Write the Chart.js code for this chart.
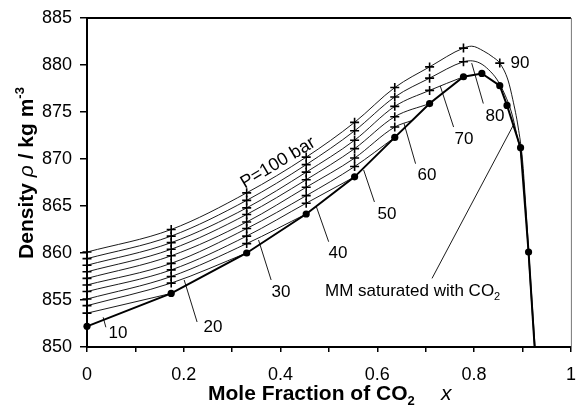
<!DOCTYPE html>
<html>
<head>
<meta charset="utf-8">
<script src="https://cdn.jsdelivr.net/npm/chart.js@4.4.0/dist/chart.umd.min.js"></script>
<style>
  html, body { margin: 0; padding: 0; background: #fff; }
  canvas { display: block; }
</style>
</head>
<body>
<canvas id="chart" width="577" height="405"></canvas>
<script>
// mole fractions of CO2 where the isobars were measured
const colX = [0, 0.174, 0.33, 0.453, 0.553, 0.636, 0.708, 0.778];

// density (kg m-3) at those compositions, one array per pressure
const rho10 = [853.6];
const rho20 = [854.4, 856.8];
const rho30 = [855.1, 857.5, 861.0];
const rho40 = [855.9, 858.2, 861.8, 865.3];
const rho50 = [856.6, 858.9, 862.6, 866.1, 869.2];
const rho60 = [857.3, 859.7, 863.3, 867.0, 870.1, 873.4];
const rho70 = [858.0, 860.4, 864.1, 867.8, 871.1, 874.5];
const rho80 = [858.7, 861.1, 864.8, 868.6, 872.0, 875.6, 877.3];
const rho90 = [859.4, 861.8, 865.6, 869.4, 873.0, 876.6, 878.6, 880.35];
const rho100 = [860.1, 862.5, 866.4, 870.2, 873.9, 877.6, 879.8, 881.8];

// where the 10..80 bar isobars run into the saturation curve
const endX = [0.174, 0.33, 0.453, 0.553, 0.636, 0.672, 0.708, 0.778];
const endRho = [855.7, 860.0, 864.15, 868.1, 872.3, 874.1, 875.9, 878.75];

// the two top isobars past the maximum
const tail90X = [0.792, 0.812, 0.83, 0.848, 0.864, 0.877, 0.888, 0.899, 0.909, 0.917, 0.925];
const tail90Rho = [880.45, 880.2, 879.5, 878.4, 876.8, 875.0, 872.6, 869.4, 862.5, 856.0, 850];
const tail100X = [0.795, 0.819, 0.84, 0.853, 0.87, 0.88, 0.891, 0.9, 0.906, 0.915, 0.926];
const tail100Rho = [882.0, 881.5, 880.8, 880.2, 878.4, 876.3, 873.4, 869.9, 865.6, 858.5, 850];

// single marked point on the top curve ("+90")
const extraX = [0.853];
const extraRho = [880.2];

// MM saturated with CO2
const satX = [0, 0.174, 0.33, 0.453, 0.553, 0.636, 0.708, 0.778, 0.816, 0.853, 0.868, 0.896, 0.9125, 0.925];
const satRho = [852.2, 855.7, 860.0, 864.15, 868.1, 872.3, 875.9, 878.75, 879.1, 877.8, 875.7, 871.2, 860.1, 850];

const xTicks = [0, 0.2, 0.4, 0.6, 0.8, 1];
const yTicks = [850, 855, 860, 865, 870, 875, 880, 885];

const isobars = [rho10, rho20, rho30, rho40, rho50, rho60, rho70, rho80, rho90, rho100];
const tails = { 8: [tail90X, tail90Rho], 9: [tail100X, tail100Rho] };

const FONT = '"Liberation Sans", Arial, sans-serif';

const datasets = [];
const crossPts = [];
isobars.forEach((rho, i) => {
    const pts = rho.map((r, k) => ({ x: colX[k], y: r }));
    pts.forEach(p => crossPts.push(p));
    let line = pts.slice();
    if (tails[i]) {
        tails[i][0].forEach((x, k) => line.push({ x: x, y: tails[i][1][k] }));
    } else {
        line.push({ x: endX[i], y: endRho[i] });
    }
    datasets.push({
        data: line, showLine: true, borderColor: '#000', borderWidth: 0.9,
        pointRadius: 0, cubicInterpolationMode: 'monotone', order: 3
    });
});
extraX.forEach((x, k) => crossPts.push({ x: x, y: extraRho[k] }));

const satPts = satX.map((x, k) => ({ x: x, y: satRho[k] }));
datasets.push({
    data: satPts, showLine: true, borderColor: '#000', borderWidth: 2, clip: 6,
    pointRadius: satPts.map((p, k) => k === satPts.length - 1 ? 0 : 3.6),
    pointBackgroundColor: '#000', pointBorderWidth: 0, order: 2
});
datasets.push({
    data: crossPts, showLine: false, pointStyle: 'cross', pointRadius: 4.5, clip: 6,
    pointBorderColor: '#000', pointBorderWidth: 1.6, order: 1
});

// text labels and their leader lines, in data units
const numLabels = [
    { t: '10', px: 118, py: 333, l: [0.0334, 853.16, 0.039, 852.1] },
    { t: '20', px: 213, py: 327, l: [0.2275, 852.66, 0.2008, 857.13] },
    { t: '30', px: 281, py: 292, l: [0.3805, 857.13, 0.3545, 861.38] },
    { t: '40', px: 338, py: 253, l: [0.4994, 861.2, 0.474, 864.93] },
    { t: '50', px: 387, py: 214, l: [0.594, 865.43, 0.5717, 868.83] },
    { t: '60', px: 427, py: 175, l: [0.679, 869.5, 0.655, 873.8] },
    { t: '70', px: 464, py: 139, l: [0.7576, 873.4, 0.730, 877.77] },
    { t: '80', px: 495, py: 116, l: [0.819, 875.9, 0.795, 880.2] },
    { t: '90', px: 520, py: 63, l: null }
];
const mmLeader = [0.713, 857.3, 0.881, 873.6];

function richText(ctx, parts, x, y) {
    let cx = x;
    parts.forEach(p => {
        ctx.font = p.f;
        ctx.fillText(p.t, cx, y + (p.dy || 0));
        cx += ctx.measureText(p.t).width;
    });
}
function richWidth(ctx, parts) {
    let w = 0;
    parts.forEach(p => { ctx.font = p.f; w += ctx.measureText(p.t).width; });
    return w;
}

const decor = {
    id: 'decor',
    afterDraw(chart) {
        const ctx = chart.ctx;
        const a = chart.chartArea;
        const xs = chart.scales.x, ys = chart.scales.y;
        ctx.save();
        // frame top and right
        ctx.strokeStyle = '#000';
        ctx.lineWidth = 2;
        ctx.beginPath();
        ctx.moveTo(a.left - 1, a.top); ctx.lineTo(a.right, a.top);
        ctx.stroke();
        ctx.strokeStyle = '#777';
        ctx.lineWidth = 1;
        ctx.beginPath();
        ctx.moveTo(a.right + 0.5, a.top); ctx.lineTo(a.right + 0.5, a.bottom);
        ctx.stroke();

        // leader lines
        ctx.strokeStyle = '#000';
        ctx.lineWidth = 0.9;
        const lead = l => {
            ctx.beginPath();
            ctx.moveTo(xs.getPixelForValue(l[0]), ys.getPixelForValue(l[1]));
            ctx.lineTo(xs.getPixelForValue(l[2]), ys.getPixelForValue(l[3]));
            ctx.stroke();
        };
        numLabels.forEach(n => { if (n.l) lead(n.l); });
        lead(mmLeader);

        ctx.fillStyle = '#000';
        ctx.textAlign = 'center';
        ctx.textBaseline = 'middle';
        ctx.font = '17px ' + FONT;
        numLabels.forEach(n => ctx.fillText(n.t, n.px, n.py));

        // P=100 bar along the top isobar
        ctx.save();
        ctx.translate(278, 163);
        ctx.rotate(-31 * Math.PI / 180);
        ctx.font = '18px ' + FONT;
        ctx.fillText('P=100 bar', 0, 0);
        ctx.restore();

        ctx.textAlign = 'left';
        ctx.textBaseline = 'alphabetic';
        richText(ctx, [
            { t: 'MM saturated with CO', f: '17px ' + FONT },
            { t: '2', f: '11px ' + FONT, dy: 4 }
        ], 325, 296);

        // x axis title
        const xt = [
            { t: 'Mole Fraction of CO', f: 'bold 21px ' + FONT },
            { t: '2', f: 'bold 13px ' + FONT, dy: 5 }
        ];
        richText(ctx, xt, 208, 400);
        ctx.font = 'italic 21px ' + FONT;
        ctx.fillText('x', 441, 400);

        // y axis title
        const yt = [
            { t: 'Density ', f: 'bold 21px ' + FONT },
            { t: 'ρ', f: 'italic 21px ' + FONT },
            { t: ' / kg m', f: 'bold 21px ' + FONT },
            { t: '-3', f: 'bold 13px ' + FONT, dy: -9 }
        ];
        ctx.save();
        ctx.translate(33, 173);
        ctx.rotate(-Math.PI / 2);
        richText(ctx, yt, -richWidth(ctx, yt) / 2, 0);
        ctx.restore();
        ctx.restore();
    }
};

new Chart(document.getElementById('chart'), {
    type: 'scatter',
    data: { datasets: datasets },
    options: {
        responsive: false,
        animation: false,
        layout: { padding: { top: 18, right: 2, left: 0, bottom: 0 } },
        plugins: { legend: { display: false }, tooltip: { enabled: false } },
        scales: {
            x: {
                type: 'linear', min: 0, max: 1,
                afterFit: s => { s.height = 58; s.paddingLeft = 0; s.paddingRight = 0; },
                border: { color: '#000', width: 2 },
                grid: { drawOnChartArea: false, drawTicks: true, tickLength: 5, color: '#000', lineWidth: 1.5 },
                ticks: {
                    stepSize: 0.1, autoSkip: false, maxRotation: 0, padding: 12,
                    color: '#000', font: { size: 18, family: FONT },
                    callback: v => {
                        const r = Math.round(v * 10) / 10;
                        return xTicks.some(t => Math.abs(t - r) < 1e-9) ? String(r) : '';
                    }
                }
            },
            y: {
                type: 'linear', min: 850, max: 885,
                afterFit: s => { s.width = 87; s.paddingTop = 0; s.paddingBottom = 0; },
                border: { color: '#000', width: 2 },
                grid: { drawOnChartArea: false, drawTicks: true, tickLength: 7, color: '#000', lineWidth: 1.5 },
                ticks: {
                    stepSize: 5, padding: 8, color: '#000', font: { size: 18, family: FONT },
                    callback: v => yTicks.includes(v) ? String(v) : ''
                }
            }
        }
    },
    plugins: [decor]
});
</script>
</body>
</html>
